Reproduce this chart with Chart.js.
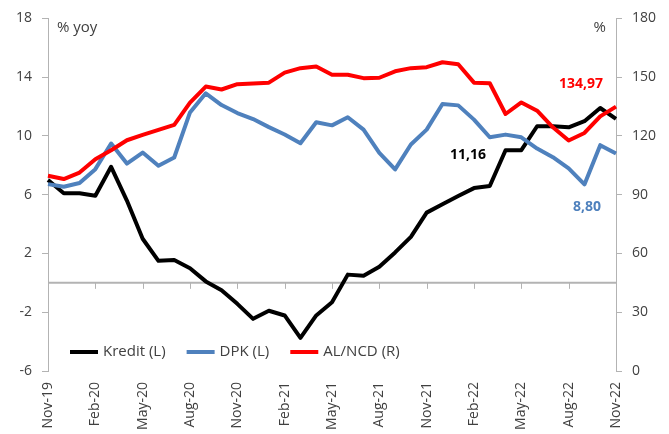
<!DOCTYPE html>
<html>
<head>
<meta charset="utf-8">
<script src="https://cdn.jsdelivr.net/npm/chart.js"></script>
<style>
    html, body { margin: 0; padding: 0; background: #fff; }
    #wrap { width: 669px; height: 434px; }
</style>
</head>
<body>
<div id="wrap"><canvas id="lineChart" width="669" height="434"></canvas></div>
<script>
// 月份
const months = [
    'Nov-19', 'Dec-19', 'Jan-20', 'Feb-20', 'Mar-20', 'Apr-20', 'May-20', 'Jun-20', 'Jul-20', 'Aug-20',
    'Sep-20', 'Oct-20', 'Nov-20', 'Dec-20', 'Jan-21', 'Feb-21', 'Mar-21', 'Apr-21', 'May-21', 'Jun-21',
    'Jul-21', 'Aug-21', 'Sep-21', 'Oct-21', 'Nov-21', 'Dec-21', 'Jan-22', 'Feb-22', 'Mar-22', 'Apr-22',
    'May-22', 'Jun-22', 'Jul-22', 'Aug-22', 'Sep-22', 'Oct-22', 'Nov-22'
];

// Kredit (L), % yoy
const kredit = [
    7.0, 6.1, 6.1, 5.93, 7.9, 5.6, 3.0, 1.5, 1.55, 1.0,
    0.1, -0.5, -1.43, -2.45, -1.9, -2.22, -3.74, -2.22, -1.32, 0.56,
    0.49, 1.1, 2.07, 3.13, 4.78, 5.35, 5.91, 6.45, 6.59, 9.03,
    9.03, 10.66, 10.66, 10.59, 11.0, 11.9, 11.16
];

// DPK (L), % yoy
const dpk = [
    6.72, 6.54, 6.8, 7.74, 9.48, 8.12, 8.87, 7.97, 8.53, 11.6,
    12.9, 12.1, 11.56, 11.15, 10.6, 10.1, 9.5, 10.93, 10.72, 11.27,
    10.43, 8.85, 7.72, 9.42, 10.43, 12.17, 12.08, 11.11, 9.91, 10.09,
    9.91, 9.14, 8.55, 7.79, 6.7, 9.37, 8.80
];

// AL/NCD (R), %
const alNcd = [
    99.7, 98.0, 101.3, 108.1, 112.7, 117.8, 120.5, 123.1, 125.6, 137.0,
    145.2, 143.7, 146.4, 146.8, 147.2, 152.3, 154.6, 155.4, 151.2, 151.2,
    149.5, 149.7, 153.0, 154.6, 155.1, 157.6, 156.6, 147.2, 146.9, 131.2,
    137.1, 132.9, 124.4, 117.7, 121.5, 130.0, 134.97
];

// 坐标轴刻度
const leftTicks = { min: -6, max: 18, step: 4 };
const rightTicks = { min: 0, max: 180, step: 30 };

const FONT = "'Open Sans', 'Noto Sans', sans-serif";
const TEXT_COLOR = '#404040';
const AXIS_COLOR = '#b3b3b3';

/**
 * 初始化
 */
function init() {
    Chart.defaults.font.family = FONT;
    Chart.defaults.font.size = 14;
    Chart.defaults.color = TEXT_COLOR;
    lineChart();
}

/**
 * 格式化 (逗号小数)
 */
function fmt(v) {
    return v.toFixed(2).replace('.', ',');
}

/**
 * 零线, 图例, 标注
 */
const decoPlugin = {
    id: 'deco',
    beforeDatasetsDraw(chart) {
        let ctx = chart.ctx;
        let area = chart.chartArea;
        let y0 = chart.scales.y.getPixelForValue(0);
        ctx.save();
        ctx.strokeStyle = AXIS_COLOR;
        ctx.lineWidth = 2;
        ctx.beginPath();
        ctx.moveTo(area.left, y0);
        ctx.lineTo(area.right, y0);
        ctx.stroke();
        // 每三个月一个刻度
        ctx.lineWidth = 1;
        ctx.beginPath();
        months.forEach(function (m, i) {
            if (i % 3 !== 0) return;
            let x = Math.round(chart.scales.x.getPixelForValue(i)) + 0.5;
            ctx.moveTo(x, y0);
            ctx.lineTo(x, y0 + 6);
        });
        ctx.stroke();
        ctx.restore();
    },
    afterDatasetsDraw(chart) {
        let ctx = chart.ctx;
        let area = chart.chartArea;
        ctx.save();

        // 轴标题
        ctx.fillStyle = TEXT_COLOR;
        ctx.font = '15px ' + FONT;
        ctx.textBaseline = 'alphabetic';
        ctx.textAlign = 'left';
        ctx.fillText('% yoy', area.left + 9, area.top + 14);
        ctx.textAlign = 'right';
        ctx.fillText('%', area.right - 10, area.top + 14);

        // 图例
        let x = area.left + 22;
        let ly = area.bottom - 19;
        ctx.textAlign = 'left';
        ctx.textBaseline = 'middle';
        [0, 1, 2].forEach(function (idx) {
            let ds = chart.data.datasets[idx];
            ctx.strokeStyle = ds.borderColor;
            ctx.lineWidth = 4;
            ctx.beginPath();
            ctx.moveTo(x, ly);
            ctx.lineTo(x + 28, ly);
            ctx.stroke();
            x += 33;
            ctx.fillStyle = TEXT_COLOR;
            ctx.fillText(ds.label, x, ly);
            x += ctx.measureText(ds.label).width + 21;
        });

        // 最后一个值
        let last = months.length - 1;
        let xs = chart.scales.x.getPixelForValue(last);
        ctx.font = 'bold 14px ' + FONT;
        ctx.textAlign = 'center';
        ctx.fillStyle = '#000000';
        ctx.fillText(fmt(kredit[last]), xs - 148, chart.scales.y.getPixelForValue(kredit[last]) + 36);
        ctx.fillStyle = '#4f81bd';
        ctx.fillText(fmt(dpk[last]), xs - 29, chart.scales.y.getPixelForValue(dpk[last]) + 53);
        ctx.fillStyle = '#ff0000';
        ctx.fillText(fmt(alNcd[last]), xs - 35, chart.scales.y1.getPixelForValue(alNcd[last]) - 23);

        ctx.restore();
    }
};

/**
 * 折线图
 */
function lineChart() {
    let config = {
        type: 'line',
        data: {
            labels: months,
            datasets: [{
                label: 'Kredit (L)',
                data: kredit,
                borderColor: '#000000',
                yAxisID: 'y',
                order: 3
            }, {
                label: 'DPK (L)',
                data: dpk,
                borderColor: '#4f81bd',
                yAxisID: 'y',
                order: 2
            }, {
                label: 'AL/NCD (R)',
                data: alNcd,
                borderColor: '#ff0000',
                yAxisID: 'y1',
                order: 1
            }]
        },
        options: {
            responsive: false,
            animation: false,
            layout: { padding: { top: 17, left: 0, right: 0, bottom: 0 } },
            elements: {
                line: { borderWidth: 4, tension: 0, borderJoinStyle: 'round', borderCapStyle: 'butt' },
                point: { radius: 0 }
            },
            plugins: {
                legend: { display: false },
                tooltip: { enabled: false }
            },
            scales: {
                x: {
                    grid: { display: false, drawTicks: false },
                    border: { display: false },
                    afterFit: function (scale) { scale.height = 63; },
                    ticks: {
                        autoSkip: false,
                        minRotation: 90,
                        maxRotation: 90,
                        padding: 11,
                        callback: function (val, idx) {
                            return idx % 3 === 0 ? this.getLabelForValue(val) : '';
                        }
                    }
                },
                y: {
                    position: 'left',
                    min: leftTicks.min,
                    max: leftTicks.max,
                    afterFit: function (scale) { scale.width = 48; },
                    grid: { drawOnChartArea: false, tickLength: 6, color: AXIS_COLOR },
                    border: { display: true, color: AXIS_COLOR },
                    ticks: { stepSize: leftTicks.step, padding: 10 }
                },
                y1: {
                    position: 'right',
                    min: rightTicks.min,
                    max: rightTicks.max,
                    afterFit: function (scale) { scale.width = 53; },
                    grid: { drawOnChartArea: false, tickLength: 6, color: AXIS_COLOR },
                    border: { display: true, color: AXIS_COLOR },
                    ticks: { stepSize: rightTicks.step, padding: 10 }
                }
            }
        },
        plugins: [decoPlugin]
    };
    let ctx = document.getElementById('lineChart').getContext('2d');
    new Chart(ctx, config);
}

init();
</script>
</body>
</html>
